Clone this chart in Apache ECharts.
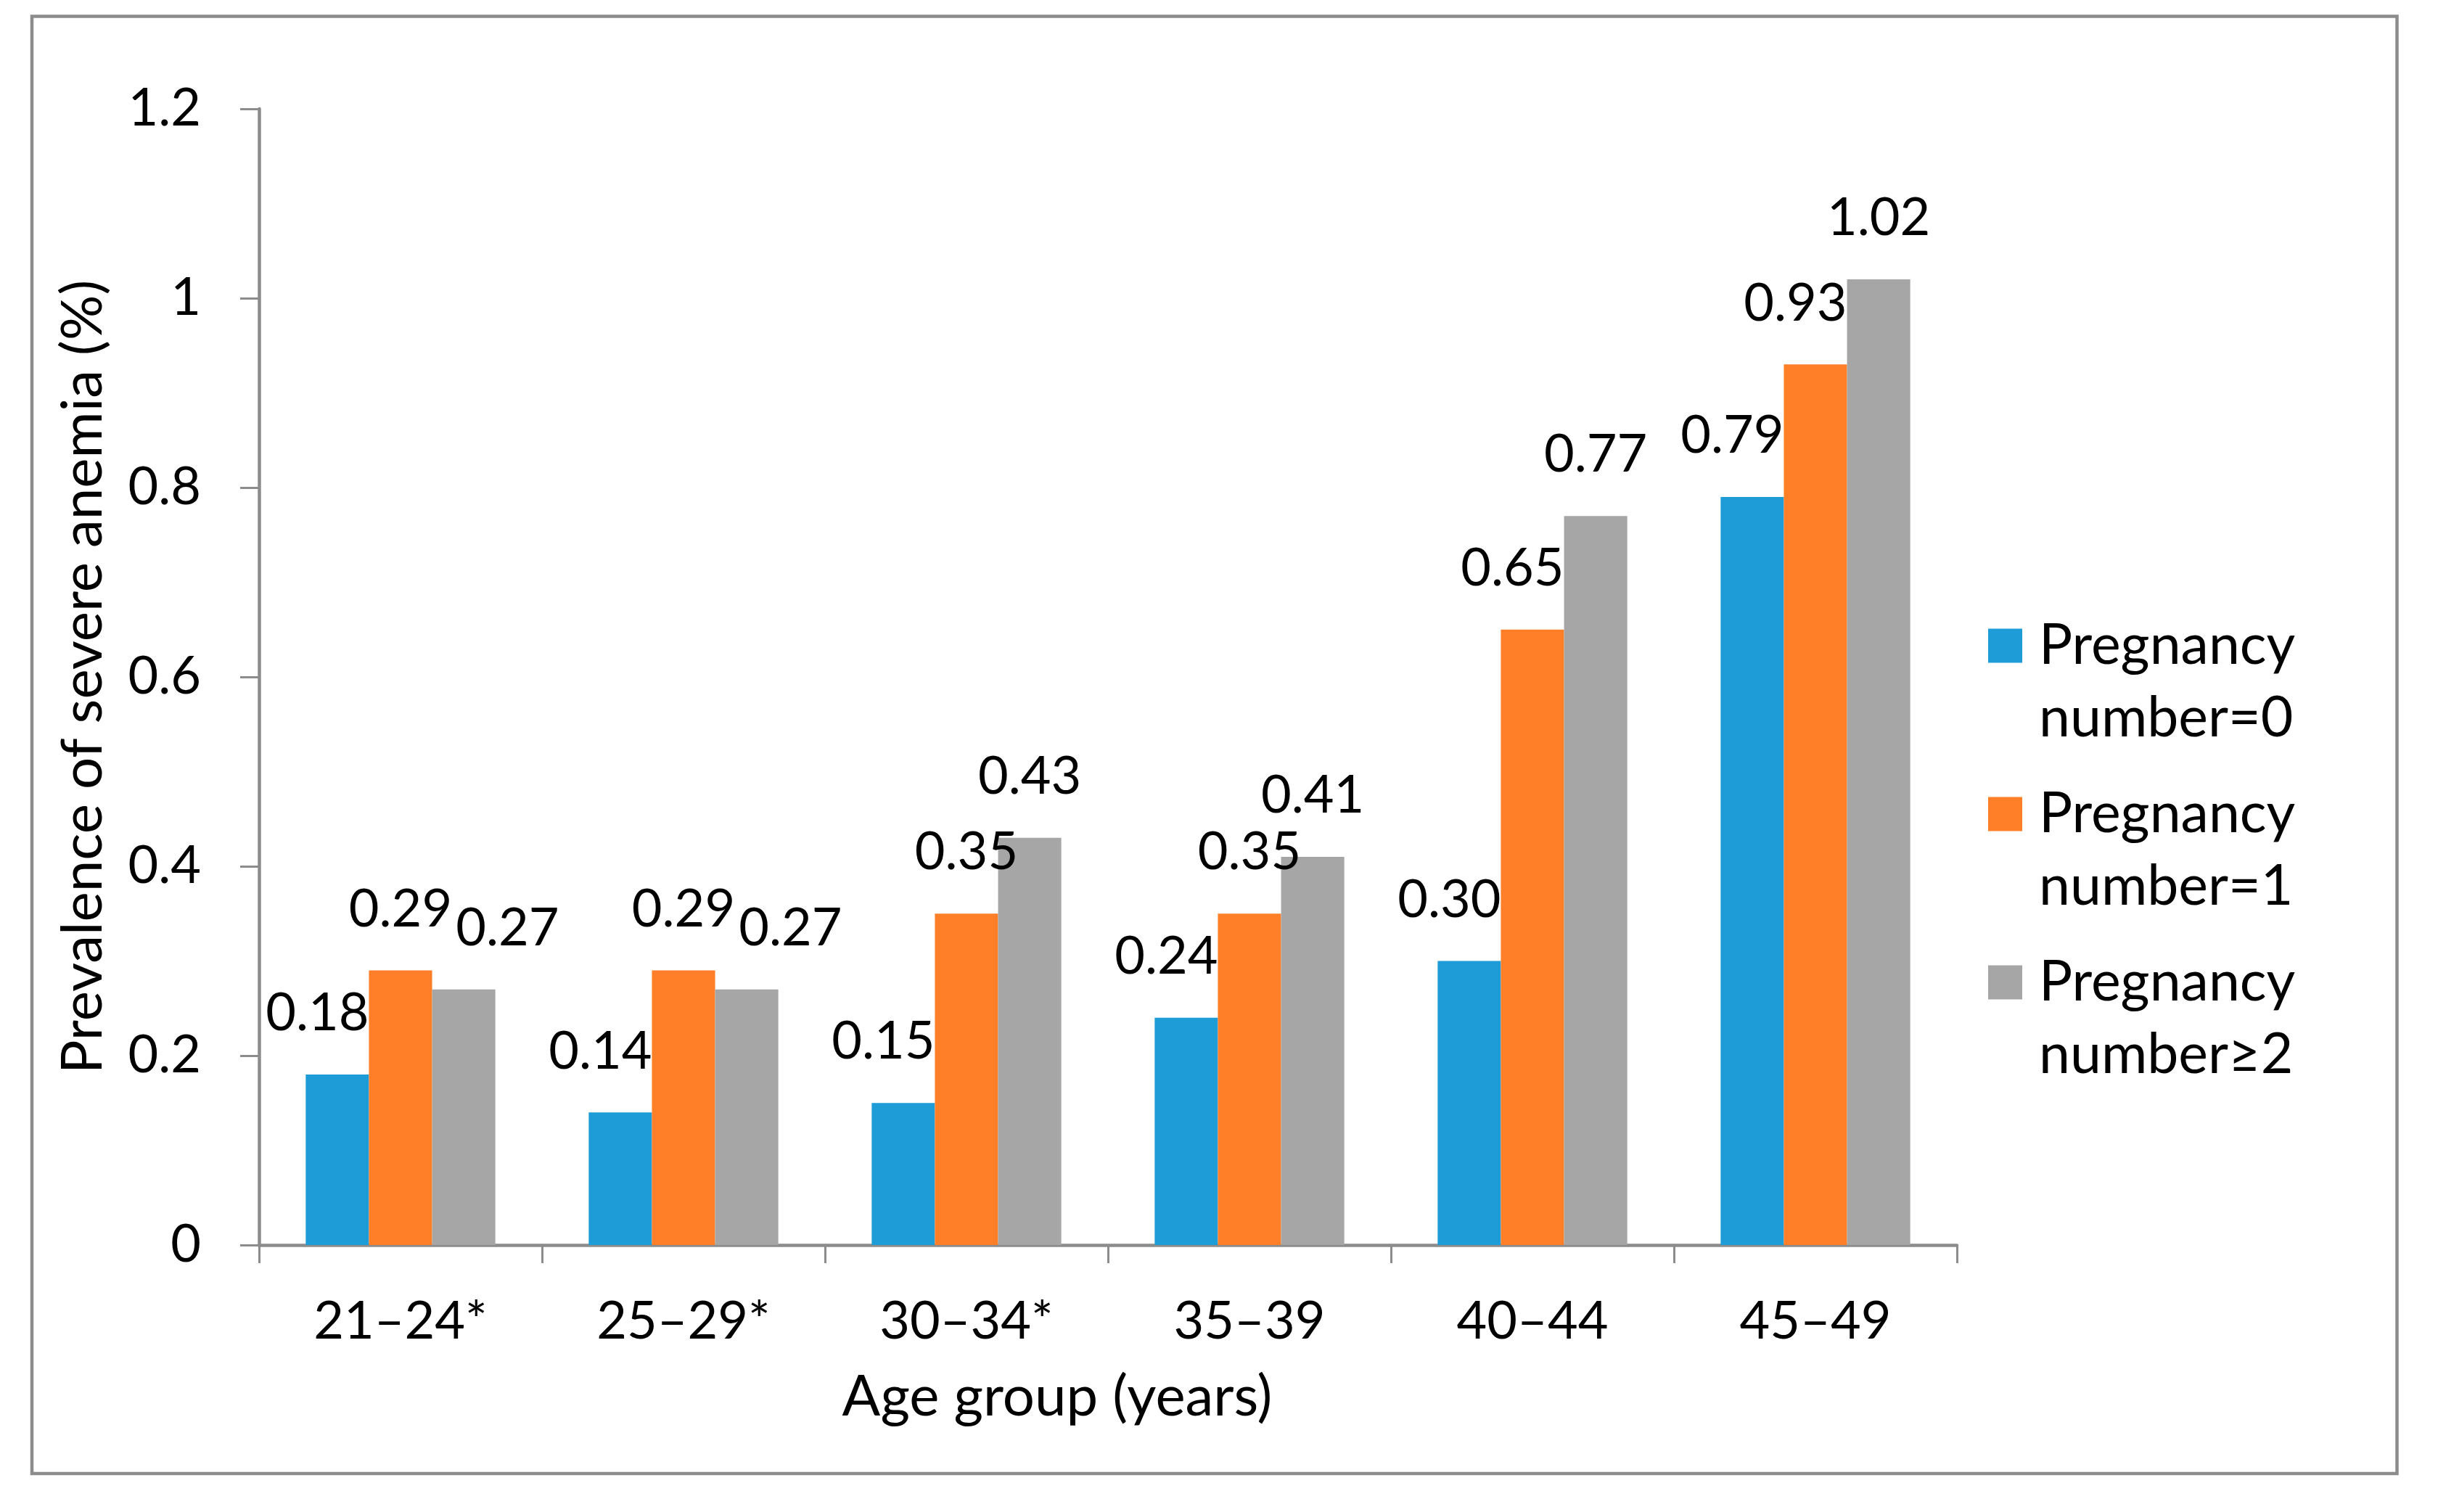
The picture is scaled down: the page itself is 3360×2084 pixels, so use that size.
<!DOCTYPE html>
<html>
<head>
<meta charset="utf-8">
<script src="https://cdn.jsdelivr.net/npm/echarts/dist/echarts.min.js"></script>
<style>
html, body { margin: 0; padding: 0; background: #ffffff; }
#chart { width: 3360px; height: 2084px; }
</style>
</head>
<body>
<div id="chart"></div>
<script>
const categories = ['21\u201324*', '25\u201329*', '30\u201334*', '35\u201339', '40\u201344', '45\u201349'];
const seriesNames = ['Pregnancy number=0', 'Pregnancy number=1', 'Pregnancy number\u22652'];
const preg0 = [0.18, 0.14, 0.15, 0.24, 0.30, 0.79];
const preg1 = [0.29, 0.29, 0.35, 0.35, 0.65, 0.93];
const preg2 = [0.27, 0.27, 0.43, 0.41, 0.77, 1.02];
const yTicks = { min: 0, max: 1.2, interval: 0.2 };

const allValues = [preg0, preg1, preg2];
const colors = ['#1e9cd7', '#fe7f27', '#a6a6a6'];
const FONT = 'Lato';
const FS = 72;
const FS_NAME = 78;
const FS_LEGEND = 77;

const chart = echarts.init(document.getElementById('chart'), null, { renderer: 'canvas' });

function labelLayoutFn(p) {
  const s = p.seriesIndex, i = p.dataIndex;
  const v = allValues[s][i];
  const r = p.rect, lr = p.labelRect;
  if (!r || !lr || !v) return {};
  const base = r.y + r.height;
  const k = r.height / v;
  const lb = lr.y + lr.height;
  if (s < 2) {
    const nextTop = base - allValues[s + 1][i] * k;
    const ov = lb - Math.max(nextTop, lr.y);
    if (ov > 0.8 * lr.height) {
      return { dx: (r.x + r.width) - (lr.x + lr.width) };
    }
  } else {
    const gap = r.y - lb;
    const prevTop = base - allValues[1][i] * k;
    const pb = prevTop - gap, pt = pb - lr.height;
    const overlapV = Math.min(pb, lb) - Math.max(pt, lr.y);
    const prevRight = r.x - r.width / 2 + lr.width / 2;
    if (overlapV > 0 && prevRight > lr.x) {
      return { dx: prevRight + 5 - lr.x };
    }
  }
  return {};
}

const series = allValues.map(function (vals, idx) {
  return {
    name: seriesNames[idx],
    type: 'bar',
    data: vals,
    barGap: '0%',
    barCategoryGap: '33%',
    itemStyle: { color: colors[idx] },
    label: {
      show: true,
      position: 'top',
      distance: 48,
      fontFamily: FONT,
      fontSize: FS,
      color: '#000000',
      formatter: function (d) { return d.value.toFixed(2); }
    },
    labelLayout: labelLayoutFn
  };
});

const option = {
  backgroundColor: '#ffffff',
  animation: false,
  textStyle: { fontFamily: FONT },
  color: colors,
  grid: { left: 357, right: 663, top: 150, bottom: 368, containLabel: false },
  graphic: [{
    type: 'rect',
    silent: true,
    shape: { x: 44, y: 22.5, width: 3259.5, height: 2008.5 },
    style: { fill: 'none', stroke: '#8c8c8c', lineWidth: 4.5 }
  }],
  legend: {
    orient: 'vertical',
    left: 2740,
    top: 840,
    padding: 0,
    itemWidth: 65,
    itemHeight: 200,
    itemGap: 32,
    icon: 'path://M0,0L65,0M0,26.5L47,26.5L47,73.5L0,73.5ZM0,200L65,200',
    formatter: function (name) { return name.replace(' ', '\n'); },
    textStyle: { fontFamily: FONT, fontSize: FS_LEGEND, lineHeight: 100, color: '#000000' },
    data: seriesNames
  },
  xAxis: {
    type: 'category',
    data: categories,
    name: 'Age group (years)',
    nameLocation: 'middle',
    nameGap: 171,
    nameTextStyle: { fontFamily: FONT, fontSize: FS_NAME, color: '#000000', padding: [0, 140, 0, 0] },
    axisLine: { show: true, lineStyle: { color: '#8c8c8c', width: 4.5 } },
    axisTick: { show: true, inside: false, length: 25, lineStyle: { color: '#8c8c8c', width: 3 } },
    axisLabel: { fontFamily: FONT, fontSize: FS, color: '#000000', margin: 70, interval: 0 },
    splitLine: { show: false }
  },
  yAxis: {
    type: 'value',
    min: yTicks.min,
    max: yTicks.max,
    interval: yTicks.interval,
    name: 'Prevalence of severe anemia (%)',
    nameLocation: 'middle',
    nameGap: 203,
    nameTextStyle: { fontFamily: FONT, fontSize: FS_NAME, color: '#000000' },
    axisLine: { show: true, lineStyle: { color: '#8c8c8c', width: 4.5 } },
    axisTick: { show: true, inside: false, length: 26, lineStyle: { color: '#8c8c8c', width: 3 } },
    axisLabel: { fontFamily: FONT, fontSize: FS, color: '#000000', margin: 80 },
    splitLine: { show: false }
  },
  series: series
};

chart.setOption(option);
</script>
</body>
</html>
